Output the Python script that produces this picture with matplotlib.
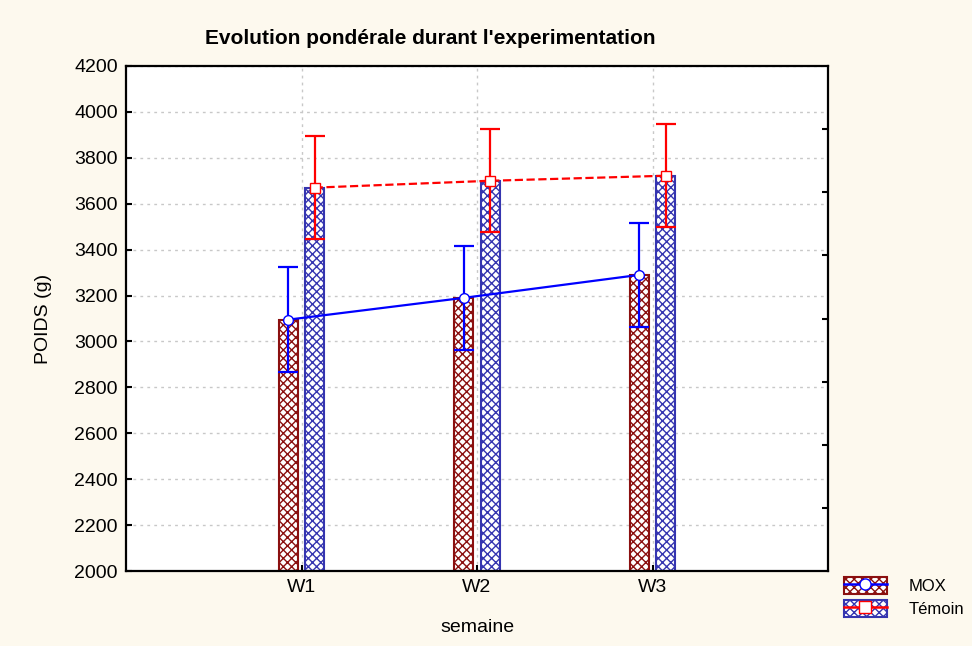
import numpy as np
import matplotlib.pyplot as plt
from matplotlib.patches import Patch
from matplotlib.lines import Line2D

plt.rcParams['font.family'] = ['Liberation Sans', 'DejaVu Sans']
plt.rcParams['hatch.linewidth'] = 1.0

# data
weeks = ['W1', 'W2', 'W3']
mox = [3095, 3190, 3290]
mox_err = [228, 228, 228]
temoin = [3670, 3700, 3722]
temoin_err = [225, 225, 225]

x = np.arange(1, len(weeks) + 1)
off = 0.075
bw = 0.11

fig = plt.figure(figsize=(9.72, 6.46), dpi=100, facecolor='#fdf9ee')
ax = fig.add_axes([126/972, 1 - 571/646, 702/972, 505/646])
ax.set_facecolor('white')

red_dark = '#8b1010'
blue_dark = '#3535b0'

ax.bar(x - off, np.array(mox) - 2000, bw, bottom=2000, color='white',
       edgecolor=red_dark, hatch='xxxx', linewidth=1.5, zorder=2)
ax.bar(x + off, np.array(temoin) - 2000, bw, bottom=2000, color='white',
       edgecolor=blue_dark, hatch='xxxx', linewidth=1.5, zorder=2)

ax.errorbar(x - off, mox, yerr=mox_err, color='#0000ff', lw=1.6, capsize=7,
            capthick=1.6, marker='o', ms=7, mfc='white', mec='#0000ff',
            zorder=4)
ax.errorbar(x + off, temoin, yerr=temoin_err, color='#ff0000', lw=1.6,
            ls='--', capsize=7, capthick=1.6, marker='s', ms=7, mfc='white',
            mec='#ff0000', zorder=4)

ax.set_xlim(0, 4)
ax.set_ylim(2000, 4200)
ax.set_xticks(x)
ax.set_xticklabels(weeks)
ax.set_yticks(np.arange(2000, 4201, 200))
ax.tick_params(direction='in', labelsize=14, length=4, width=1.5, pad=6)
ax.grid(True, ls=(0, (2, 3)), color='#c8c8c8', lw=1)
ax.set_axisbelow(True)
for s in ax.spines.values():
    s.set_linewidth(1.6)

ax2 = ax.twinx()
ax2.set_ylim(0, 8)
ax2.set_yticks(range(1, 8))
ax2.set_yticklabels([])
ax2.tick_params(direction='in', length=4, width=1.5)
for s in ax2.spines.values():
    s.set_visible(False)

ax.set_xlabel('semaine', fontsize=14, labelpad=16)
ax.set_ylabel('POIDS (g)', fontsize=14, labelpad=16)
fig.text(430/972, 1 - 38/646, "Evolution pondérale durant l'experimentation",
         ha='center', va='center', fontsize=15, fontweight='bold')

h1 = (Patch(facecolor='white', edgecolor=red_dark, hatch='xxxx', lw=1.5),
      Line2D([], [], color='#0000ff', marker='o', mfc='white', ms=8, lw=1.8))
h2 = (Patch(facecolor='white', edgecolor=blue_dark, hatch='xxxx', lw=1.5),
      Line2D([], [], color='#ff0000', marker='s', mfc='white', ms=8, lw=1.8))
leg = fig.legend([h1, h2], ['MOX', 'Témoin'], loc='center',
                 bbox_to_anchor=(904/972, 1 - 597/646), fontsize=12,
                 frameon=False, handlelength=2.6, handleheight=1.2,
                 handletextpad=1.3, labelspacing=0.35)

fig.savefig('out.png', dpi=100, facecolor=fig.get_facecolor())
